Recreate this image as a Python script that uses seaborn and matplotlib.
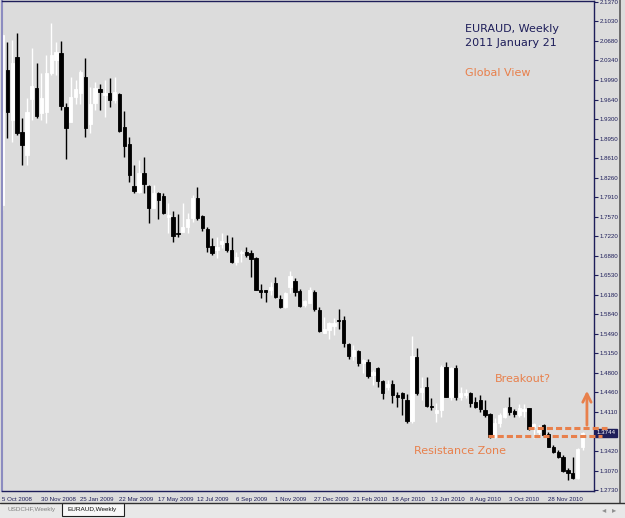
import numpy as np
import pandas as pd
import matplotlib
matplotlib.use("Agg")
import matplotlib.pyplot as plt
from matplotlib.patches import Rectangle
from matplotlib.lines import Line2D
import seaborn as sns

# weekly EURAUD candles
opens = [1.778, 2.017, 1.928, 2.040, 1.907, 1.866, 1.965, 1.985, 1.941, 1.942,
         2.011, 2.034, 2.047, 1.951, 1.925, 1.969, 1.976, 2.004, 1.921, 1.958,
         1.983, 1.972, 1.976, 1.964, 1.974, 1.916, 1.886, 1.811, 1.801, 1.834,
         1.811, 1.772, 1.799, 1.794, 1.756, 1.756, 1.728, 1.730, 1.739, 1.755,
         1.790, 1.758, 1.735, 1.705, 1.698, 1.709, 1.710, 1.698, 1.677, 1.693,
         1.695, 1.693, 1.684, 1.627, 1.627, 1.627, 1.640, 1.611, 1.597, 1.632,
         1.643, 1.625, 1.601, 1.604, 1.624, 1.592, 1.551, 1.556, 1.563, 1.574,
         1.574, 1.532, 1.510, 1.519, 1.498, 1.500, 1.477, 1.489, 1.466, 1.456,
         1.461, 1.441, 1.445, 1.433, 1.395, 1.509, 1.447, 1.456, 1.422, 1.410,
         1.415, 1.491, 1.438, 1.489, 1.438, 1.441, 1.445, 1.429, 1.433, 1.415,
         1.408, 1.367, 1.392, 1.402, 1.420, 1.413, 1.406, 1.413, 1.418, 1.385,
         1.376, 1.388, 1.372, 1.349, 1.340, 1.332, 1.309, 1.303, 1.294, 1.349]
highs = [2.082, 2.066, 2.070, 2.082, 1.932, 1.967, 2.056, 2.029, 2.011, 2.043,
         2.100, 2.066, 2.068, 1.958, 2.004, 1.999, 2.017, 2.038, 1.987, 1.995,
         1.992, 1.999, 2.002, 2.004, 1.976, 1.944, 1.898, 1.848, 1.857, 1.863,
         1.813, 1.813, 1.801, 1.799, 1.781, 1.767, 1.762, 1.781, 1.764, 1.795,
         1.810, 1.760, 1.739, 1.719, 1.721, 1.728, 1.725, 1.721, 1.695, 1.698,
         1.703, 1.698, 1.686, 1.638, 1.627, 1.641, 1.650, 1.618, 1.624, 1.661,
         1.648, 1.629, 1.609, 1.633, 1.627, 1.597, 1.579, 1.571, 1.578, 1.594,
         1.581, 1.533, 1.530, 1.521, 1.505, 1.505, 1.486, 1.491, 1.468, 1.468,
         1.468, 1.447, 1.447, 1.443, 1.546, 1.525, 1.473, 1.473, 1.436, 1.427,
         1.495, 1.500, 1.491, 1.495, 1.456, 1.452, 1.447, 1.438, 1.441, 1.433,
         1.410, 1.401, 1.410, 1.420, 1.438, 1.417, 1.425, 1.425, 1.418, 1.392,
         1.388, 1.390, 1.376, 1.353, 1.344, 1.335, 1.312, 1.332, 1.348, 1.376]
lows = [1.769, 1.896, 1.889, 1.902, 1.848, 1.848, 1.928, 1.932, 1.928, 1.923,
        2.008, 2.008, 1.946, 1.859, 1.925, 1.956, 1.956, 1.898, 1.905, 1.946,
        1.946, 1.933, 1.951, 1.958, 1.907, 1.863, 1.818, 1.799, 1.799, 1.799,
        1.746, 1.772, 1.753, 1.762, 1.728, 1.712, 1.721, 1.730, 1.728, 1.748,
        1.751, 1.732, 1.695, 1.689, 1.684, 1.702, 1.695, 1.675, 1.672, 1.677,
        1.686, 1.650, 1.627, 1.613, 1.606, 1.618, 1.613, 1.595, 1.595, 1.622,
        1.617, 1.597, 1.597, 1.604, 1.590, 1.553, 1.551, 1.541, 1.548, 1.558,
        1.526, 1.505, 1.503, 1.493, 1.480, 1.471, 1.459, 1.456, 1.434, 1.450,
        1.427, 1.420, 1.406, 1.392, 1.392, 1.441, 1.433, 1.420, 1.415, 1.394,
        1.402, 1.438, 1.433, 1.433, 1.433, 1.436, 1.420, 1.418, 1.411, 1.402,
        1.365, 1.365, 1.385, 1.401, 1.406, 1.402, 1.402, 1.402, 1.379, 1.365,
        1.367, 1.367, 1.349, 1.339, 1.330, 1.305, 1.291, 1.293, 1.293, 1.344]
closes = [2.079, 1.942, 2.029, 1.905, 1.884, 1.942, 1.988, 1.935, 1.967, 2.011,
          2.043, 2.048, 1.953, 1.914, 1.969, 1.983, 2.013, 1.914, 1.956, 1.985,
          1.978, 1.976, 1.964, 1.978, 1.909, 1.882, 1.831, 1.802, 1.834, 1.815,
          1.772, 1.799, 1.787, 1.763, 1.760, 1.723, 1.726, 1.739, 1.753, 1.790,
          1.755, 1.737, 1.703, 1.693, 1.703, 1.714, 1.698, 1.677, 1.686, 1.695,
          1.689, 1.682, 1.627, 1.624, 1.624, 1.632, 1.615, 1.597, 1.622, 1.652,
          1.624, 1.599, 1.608, 1.627, 1.594, 1.555, 1.558, 1.569, 1.569, 1.572,
          1.533, 1.510, 1.521, 1.498, 1.503, 1.475, 1.482, 1.466, 1.445, 1.461,
          1.441, 1.438, 1.436, 1.395, 1.510, 1.445, 1.454, 1.422, 1.420, 1.415,
          1.491, 1.438, 1.489, 1.438, 1.445, 1.445, 1.427, 1.420, 1.417, 1.406,
          1.367, 1.392, 1.406, 1.418, 1.411, 1.408, 1.418, 1.417, 1.381, 1.390,
          1.385, 1.371, 1.349, 1.340, 1.332, 1.307, 1.303, 1.294, 1.346, 1.3744]

date_labels = ["5 Oct 2008", "30 Nov 2008", "25 Jan 2009", "22 Mar 2009",
               "17 May 2009", "12 Jul 2009", "6 Sep 2009", "1 Nov 2009",
               "27 Dec 2009", "21 Feb 2010", "18 Apr 2010", "13 Jun 2010",
               "8 Aug 2010", "3 Oct 2010", "28 Nov 2010"]
price_ticks = [2.1370, 2.1030, 2.0680, 2.0340, 1.9990, 1.9640, 1.9300, 1.8950,
               1.8610, 1.8260, 1.7910, 1.7570, 1.7220, 1.6880, 1.6530, 1.6180,
               1.5840, 1.5490, 1.5150, 1.4800, 1.4460, 1.4110, 1.3420, 1.3070,
               1.2730]
last_price = 1.3744
resistance_low = 1.3688
resistance_high = 1.3829
low_start = 99.6
high_start = 107.8
breakout_target = 1.4537

df = pd.DataFrame({"open": opens, "high": highs, "low": lows, "close": closes})
df["bull"] = df["close"] >= df["open"]

sns.set_style("white")
plt.rcParams["font.family"] = ["DejaVu Sans"]
small = ["Liberation Sans", "DejaVu Sans"]

W, H = 625, 518
bg = "#DCDCDC"
navy = "#1E1E5A"
orange = "#E8804C"

fig = plt.figure(figsize=(W / 100, H / 100), dpi=100, facecolor=bg)
ax = fig.add_axes([2 / W, 27 / H, 592 / W, 490 / H])
ax.set_facecolor(bg)

x = np.arange(len(df))
col = np.where(df["bull"], "white", "black")
ax.vlines(x, df["low"], df["high"], colors=col, linewidth=1)
body_bottom = np.minimum(df["open"], df["close"])
body_h = (df["close"] - df["open"]).abs()
ax.bar(x, body_h, bottom=body_bottom, width=0.68, color=col,
       edgecolor=col, linewidth=0.6)

ax.set_xlim(-0.1, 121.35)
ax.set_ylim(1.2714, 2.1387)

# axes frame
for s in ["top", "right", "bottom"]:
    ax.spines[s].set_color(navy)
    ax.spines[s].set_linewidth(1)
ax.spines["left"].set_color("#8C8CC0")
ax.spines["left"].set_linewidth(1.5)

ax.yaxis.tick_right()
ax.set_yticks(price_ticks)
ax.set_yticklabels([f"{v:.4f}" for v in price_ticks])
ax.tick_params(axis="y", length=3, width=0.8, color=navy, labelcolor=navy,
               labelsize=4.4, pad=1.2, direction="out")
ax.set_xticks(range(0, 8 * len(date_labels), 8))
ax.set_xticklabels(date_labels, ha="left")
ax.tick_params(axis="x", length=3, width=0.8, color=navy, labelcolor=navy,
               labelsize=4.4, pad=1.5, direction="out")
for lbl in ax.get_yticklabels() + ax.get_xticklabels():
    lbl.set_family(small)

# current price marker
ax.text(1.004, last_price, f"{last_price:.4f}", transform=ax.get_yaxis_transform(),
        ha="left", va="center", color="white", fontsize=4.4, family=small,
        bbox=dict(boxstyle="square,pad=0.25", fc=navy, ec=navy), clip_on=False)

# resistance zone and breakout arrow
ax.hlines(resistance_low, low_start, 123.0, colors=orange, linewidth=2.2,
          linestyles=(0, (2, 1)), clip_on=False, zorder=5)
ax.hlines(resistance_high, high_start, 124.0, colors=orange, linewidth=2.2,
          linestyles=(0, (2, 1)), clip_on=False, zorder=5)
ax.annotate("", xy=(119.9, breakout_target), xytext=(119.9, resistance_high),
            arrowprops=dict(arrowstyle="->,head_width=0.3,head_length=0.6",
                            color=orange, lw=2), zorder=6)

ax.text(0.782, 0.943, "EURAUD, Weekly", transform=ax.transAxes, fontsize=8,
        color=navy, va="center")
ax.text(0.782, 0.914, "2011 January 21", transform=ax.transAxes, fontsize=8,
        color=navy, va="center")
ax.text(0.782, 0.853, "Global View", transform=ax.transAxes, fontsize=8,
        color=orange, va="center")
ax.text(0.833, 0.229, "Breakout?", transform=ax.transAxes, fontsize=8,
        color=orange, va="center")
ax.text(0.696, 0.082, "Resistance Zone", transform=ax.transAxes, fontsize=8,
        color=orange, va="center")

# terminal chrome: scrollbar strip and symbol tabs
def fx(px):
    return px / W


def fy(py):
    return 1 - py / H


fig.add_artist(Rectangle((fx(619), fy(503)), fx(2), 503 / H, transform=fig.transFigure,
                         fc="#6E6E6E", ec="none"))
fig.add_artist(Rectangle((0, 0), 1, 15 / H, transform=fig.transFigure,
                         fc="#E8E8E8", ec="none"))
fig.add_artist(Line2D([0, 1], [fy(503), fy(503)], transform=fig.transFigure,
                      color="#303030", lw=1))
fig.add_artist(Rectangle((fx(62), fy(516)), fx(62), 13 / H, transform=fig.transFigure,
                         fc="#F8F8F8", ec="#202020", lw=0.8))
fig.text(fx(7), fy(509.5), "USDCHF,Weekly", fontsize=4.6, color="#808080",
         va="center", family=small)
fig.text(fx(68), fy(509.5), "EURAUD,Weekly", fontsize=4.6, color="#101010",
         va="center", family=small)
fig.text(fx(604), fy(509.5), "◂", fontsize=6, color="#909090", va="center", ha="center")
fig.text(fx(614), fy(509.5), "▸", fontsize=6, color="#909090", va="center", ha="center")

fig.savefig("out.png", dpi=100, facecolor=bg)
